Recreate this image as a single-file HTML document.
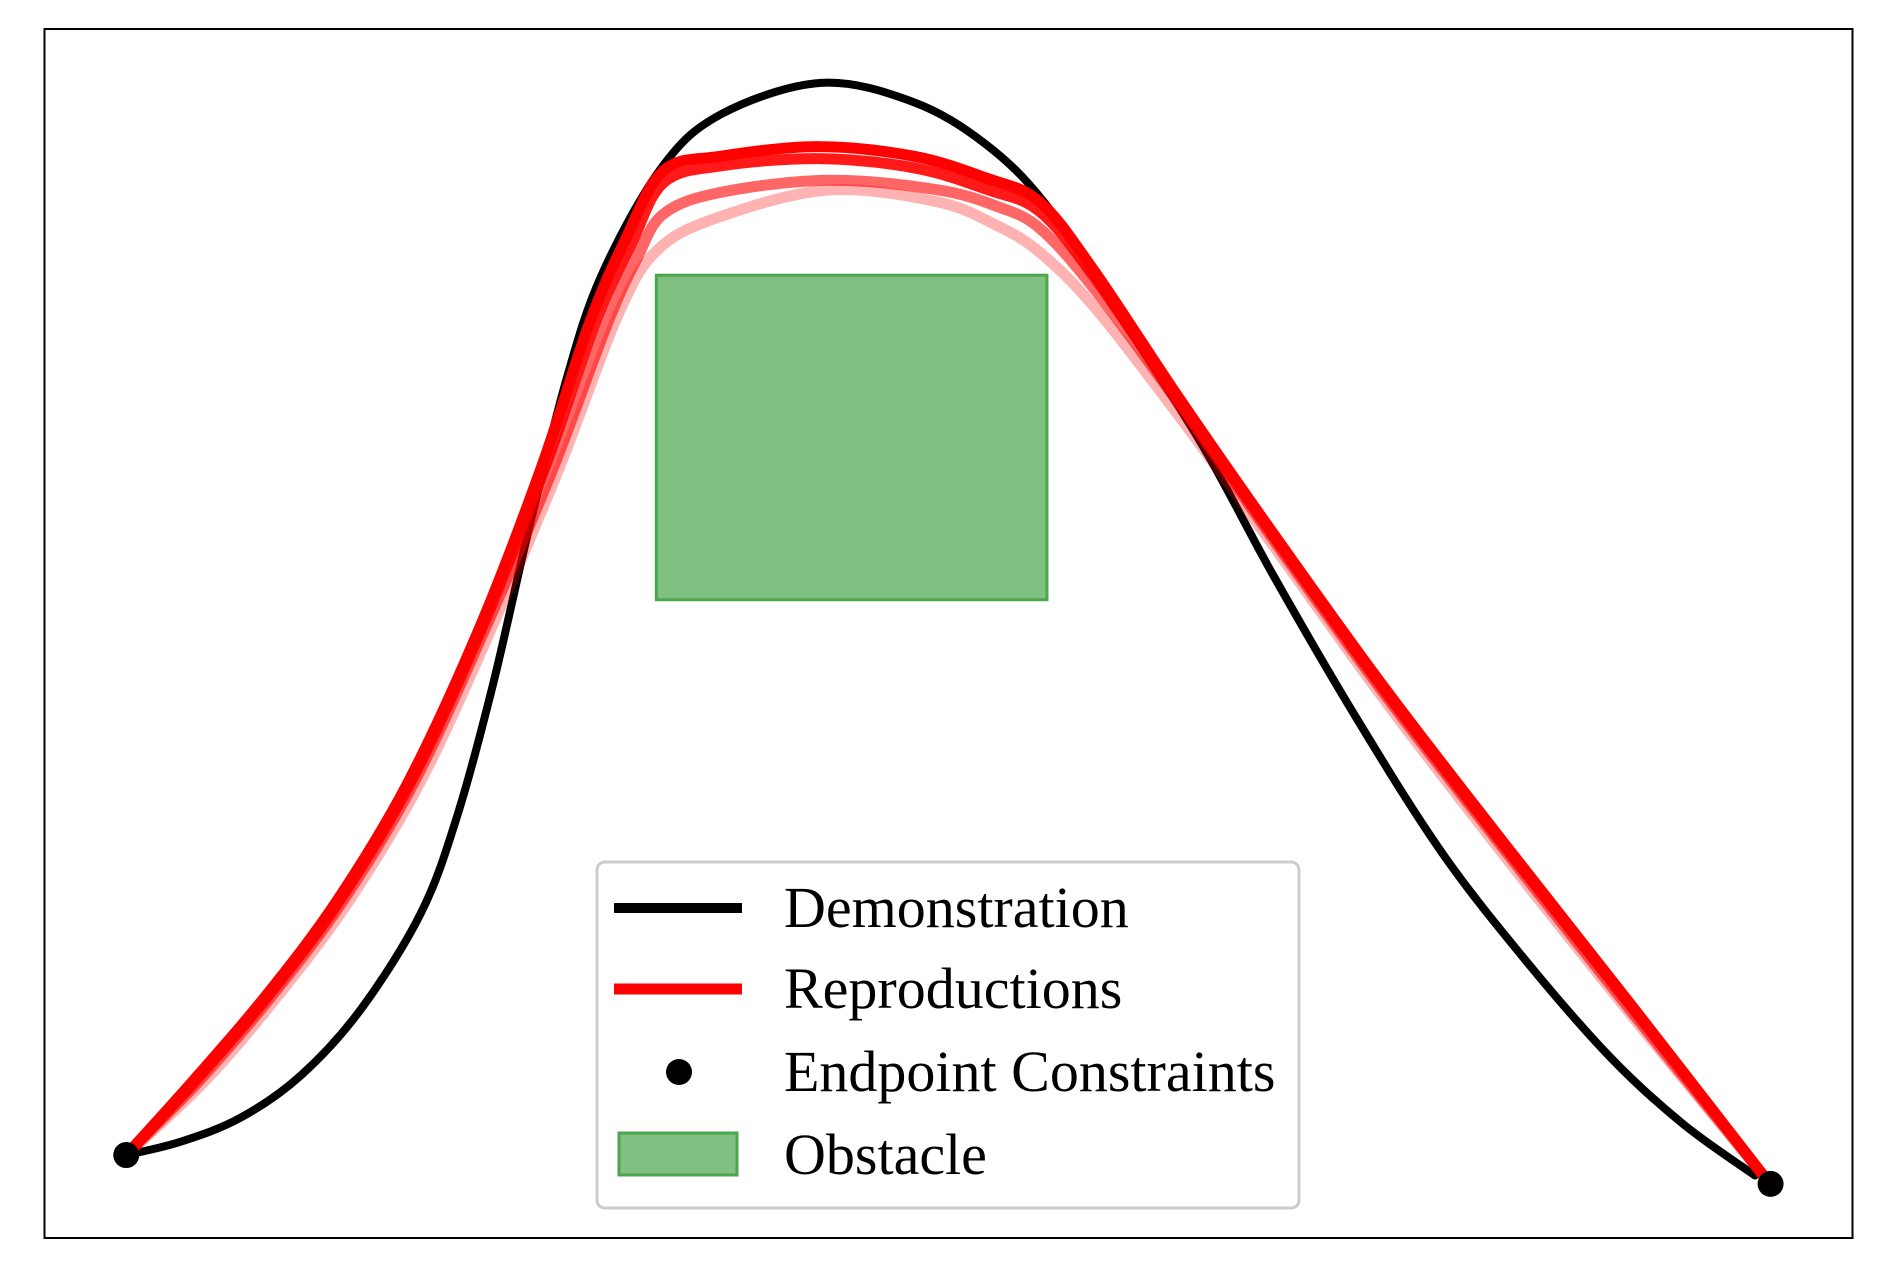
<!DOCTYPE html>
<html><head><meta charset="utf-8"><style>
body{margin:0;background:#fff}
svg{display:block}
text{font-family:"Liberation Serif",serif}
</style></head><body>
<svg id="chart" width="1885" height="1285" xmlns="http://www.w3.org/2000/svg">
<rect x="0" y="0" width="1885" height="1285" fill="#fff"/>
<g id="plot"></g>
<rect x="44.5" y="29" width="1808" height="1209" fill="none" stroke="#000" stroke-width="2"/>
<g>
<rect x="597" y="862" width="702" height="346" rx="8" fill="#fff" fill-opacity="0.8" stroke="#ccc" stroke-width="3"/>
<line x1="614" y1="908" x2="742" y2="908" stroke="#000" stroke-width="10"/>
<text x="784" y="927" font-size="58">Demonstration</text>
<line x1="614" y1="989" x2="742" y2="989" stroke="#f00" stroke-width="11"/>
<text x="784" y="1008" font-size="58">Reproductions</text>
<circle cx="679" cy="1072" r="13" fill="#000"/>
<text x="784" y="1091" font-size="58">Endpoint Constraints</text>
<rect x="619" y="1133" width="118" height="42" fill="#80c080" stroke="#4ca64c" stroke-width="3"/>
<text x="784" y="1174" font-size="58">Obstacle</text>
</g>
</svg>
<script>
// data in plot units (x rightward, y upward from axes bottom-left)
const demoX=[68,113,163,213,263,313,343,373,403,433,463,513,563,646,723,783,833,893,963,1023,1093,1163,1233,1303,1363,1423];
const demoY=[69,80,100,135,190,270,350,460,590,710,800,890,935,961,945,910,860,770,660,550,430,320,230,150,95,52];
const rep1X=[68,123,183,243,303,363,413,453,483,515,563,643,723,783,828,873,943,1023,1113,1213,1323,1430];
const rep1Y=[69,130,200,280,380,510,640,760,830,888,900,908,900,882,862,805,700,585,460,330,190,52];
const rep2X=[68,125,185,245,305,365,416,458,488,515,563,645,725,785,828,873,943,1023,1113,1213,1323,1430];
const rep2Y=[69,130,200,280,380,510,640,760,826,878,892,898,890,872,854,800,697,583,458,328,189,52];
const rep3X=[68,128,188,248,308,368,423,468,493,515,563,653,743,793,828,873,943,1023,1113,1213,1323,1430];
const rep3Y=[69,130,200,280,380,510,640,760,815,852,870,880,872,858,840,790,695,580,455,325,185,52];
const rep4X=[68,133,193,253,313,373,428,478,511,563,653,743,793,828,873,943,1023,1113,1213,1323,1430];
const rep4Y=[69,130,200,280,380,510,640,770,823,850,872,862,842,820,775,685,575,450,320,182,52];
const obstacleX=[509,834];
const obstacleY=[531,801];
const endX=[68,1436];
const endY=[69,45];

const K=1.202, X0=44.5, Y0=1238;
function sx(v){return X0+v*K;}
function sy(v){return Y0-v*K;}
const NS="http://www.w3.org/2000/svg";
const plot=document.getElementById('plot');

const ob=document.createElementNS(NS,'rect');
ob.setAttribute('x',sx(obstacleX[0]));ob.setAttribute('y',sy(obstacleY[1]));
ob.setAttribute('width',sx(obstacleX[1])-sx(obstacleX[0]));ob.setAttribute('height',sy(obstacleY[0])-sy(obstacleY[1]));
ob.setAttribute('fill','#80c080');ob.setAttribute('stroke','#4ca64c');ob.setAttribute('stroke-width','3');


plot.appendChild(ob);

function smoothPath(xs,ys){
  const P=xs.map((x,i)=>[sx(x),sy(ys[i])]);
  let d='M'+P[0][0]+','+P[0][1];
  for(let i=0;i<P.length-1;i++){
    const p0=P[Math.max(0,i-1)],p1=P[i],p2=P[i+1],p3=P[Math.min(P.length-1,i+2)];
    const c1=[p1[0]+(p2[0]-p0[0])/6,p1[1]+(p2[1]-p0[1])/6];
    const c2=[p2[0]-(p3[0]-p1[0])/6,p2[1]-(p3[1]-p1[1])/6];
    d+=' C'+c1[0]+','+c1[1]+' '+c2[0]+','+c2[1]+' '+p2[0]+','+p2[1];
  }
  return d;
}
function line(xs,ys,color,op,w,name){
  const p=document.createElementNS(NS,'path');
  p.setAttribute('d',smoothPath(xs,ys));
  p.setAttribute('fill','none');p.setAttribute('stroke',color);p.setAttribute('stroke-opacity',op);
  p.setAttribute('stroke-width',w);p.setAttribute('stroke-linejoin','round');p.setAttribute('stroke-linecap','round');
  
  
  plot.appendChild(p);
}
line(demoX,demoY,'#000',1,8,'demonstration-line');
line(rep4X,rep4Y,'#f00',0.3,11,'reproduction-line-4');
line(rep3X,rep3Y,'#f00',0.6,11,'reproduction-line-3');
line(rep2X,rep2Y,'#f00',0.9,11,'reproduction-line-2');
line(rep1X,rep1Y,'#f00',1,11,'reproduction-line-1');
for(let i=0;i<endX.length;i++){
  const c=document.createElementNS(NS,'circle');
  c.setAttribute('cx',sx(endX[i]));c.setAttribute('cy',sy(endY[i]));c.setAttribute('r',13);c.setAttribute('fill','#000');
  
  
  plot.appendChild(c);
}
</script>
</body></html>
